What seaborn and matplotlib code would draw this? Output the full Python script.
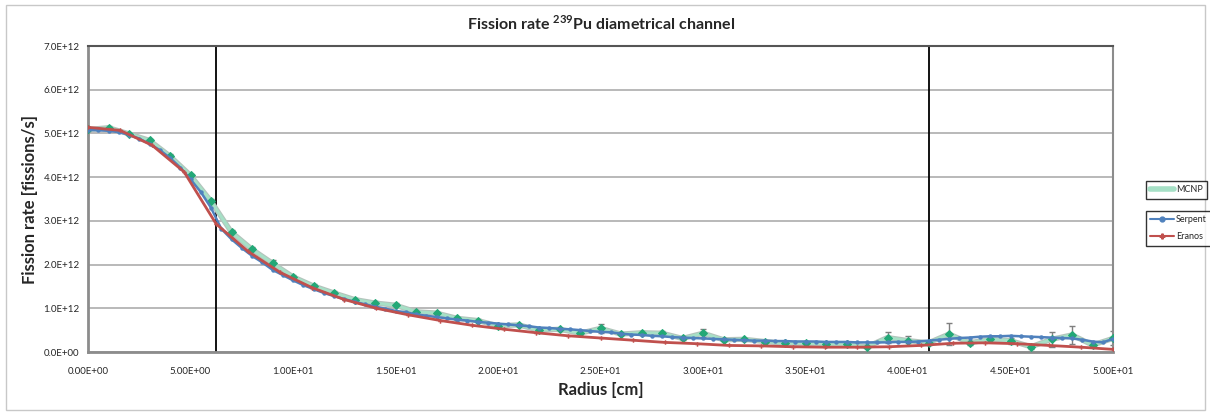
import numpy as np
import pandas as pd
import seaborn as sns
import matplotlib
matplotlib.use("Agg")
import matplotlib.pyplot as plt
from matplotlib.lines import Line2D
from matplotlib.patches import Rectangle
from matplotlib.ticker import FuncFormatter, MultipleLocator

# ---------------- data (values in 1E12 fissions/s) ----------------
mcnp_r = list(range(0, 51))
mcnp_val = [5.09, 5.13, 4.99, 4.84, 4.48, 4.04, 3.45, 2.74, 2.35, 2.03,
            1.72, 1.51, 1.35, 1.20, 1.12, 1.07, 0.92, 0.89, 0.77, 0.72,
            0.60, 0.62, 0.50, 0.52, 0.43, 0.54, 0.41, 0.44, 0.43, 0.31,
            0.43, 0.28, 0.29, 0.24, 0.20, 0.20, 0.18, 0.18, 0.12, 0.33,
            0.26, 0.21, 0.41, 0.21, 0.29, 0.26, 0.12, 0.29, 0.39, 0.16,
            0.31]
mcnp_err = [0.03, 0.03, 0.03, 0.03, 0.04, 0.04, 0.05, 0.05, 0.05, 0.08,
            0.04, 0.04, 0.04, 0.04, 0.04, 0.04, 0.03, 0.03, 0.03, 0.03,
            0.03, 0.03, 0.03, 0.03, 0.03, 0.10, 0.03, 0.04, 0.05, 0.03,
            0.09, 0.03, 0.03, 0.03, 0.03, 0.03, 0.03, 0.03, 0.03, 0.13,
            0.11, 0.04, 0.25, 0.06, 0.05, 0.07, 0.04, 0.17, 0.20, 0.05,
            0.16]

serpent_r = [i * 0.5 for i in range(101)]
serpent_val = [5.08, 5.07, 5.06, 5.03, 4.97, 4.88, 4.76, 4.62, 4.44, 4.22,
               3.95, 3.66, 3.30, 2.82, 2.58, 2.38, 2.20, 2.05, 1.88, 1.76,
               1.64, 1.53, 1.44, 1.35, 1.28, 1.21, 1.15, 1.09, 1.04, 0.99,
               0.94, 0.91, 0.86, 0.83, 0.80, 0.77, 0.74, 0.72, 0.69, 0.67,
               0.65, 0.63, 0.61, 0.59, 0.56, 0.55, 0.53, 0.52, 0.50, 0.48,
               0.46, 0.45, 0.42, 0.40, 0.39, 0.37, 0.36, 0.34, 0.33, 0.32,
               0.31, 0.30, 0.29, 0.28, 0.27, 0.26, 0.26, 0.25, 0.25, 0.24,
               0.24, 0.24, 0.23, 0.23, 0.23, 0.22, 0.22, 0.22, 0.22, 0.23,
               0.23, 0.24, 0.26, 0.28, 0.30, 0.32, 0.33, 0.35, 0.36, 0.36,
               0.37, 0.36, 0.35, 0.34, 0.33, 0.32, 0.31, 0.28, 0.24, 0.22,
               0.30]

eranos_r = [i * 1.5625 for i in range(33)]
eranos_val = [5.14, 5.07, 4.73, 4.12, 2.93, 2.30, 1.82, 1.47, 1.20, 1.00,
              0.85, 0.72, 0.61, 0.52, 0.44, 0.37, 0.32, 0.27, 0.22, 0.19,
              0.15, 0.14, 0.12, 0.11, 0.11, 0.12, 0.15, 0.20, 0.21, 0.19,
              0.15, 0.11, 0.06]

boundaries = [6.25, 41.0]
y_ticks = [0, 1, 2, 3, 4, 5, 6, 7]
x_ticks = [0, 5, 10, 15, 20, 25, 30, 35, 40, 45, 50]

SCALE = 1e12
mcnp_df = pd.DataFrame({"r": mcnp_r, "v": np.array(mcnp_val) * SCALE,
                        "e": np.array(mcnp_err) * SCALE})
serp_df = pd.DataFrame({"r": serpent_r, "v": np.array(serpent_val) * SCALE})
eran_df = pd.DataFrame({"r": eranos_r, "v": np.array(eranos_val) * SCALE})

# ---------------- style ----------------
sns.set_style("white")
plt.rcParams["font.family"] = ["Lato", "DejaVu Sans"]
plt.rcParams["mathtext.fontset"] = "custom"
plt.rcParams["mathtext.bf"] = "Lato:bold"
plt.rcParams["mathtext.rm"] = "Lato"

BLUE = "#4F81BD"
RED = "#C0504D"
GREEN_BAND = "#a6e0c6"
GREEN_EDGE = "#b3c4bc"
GREEN_MK = "#23a877"

fig = plt.figure(figsize=(12.1, 4.15), dpi=100)
ax = fig.add_axes([88 / 1210, 1 - 352 / 415, (1113 - 88) / 1210, (352 - 46) / 415])

# outer chart frame
fig.patches.append(Rectangle((6 / 1210, 1 - 410 / 415), 1199 / 1210, 405 / 415,
                             transform=fig.transFigure, fill=False,
                             edgecolor="#c8c8c8", linewidth=1.0))

# grid
for t in y_ticks:
    ax.axhline(t * SCALE, color="#a6a6a6", linewidth=1.1, zorder=0)

# boundaries
for b in boundaries:
    ax.axvline(b, color="black", linewidth=1.3, zorder=1)

# MCNP series: thick band + markers + error bars
ax.errorbar(mcnp_df["r"], mcnp_df["v"], yerr=mcnp_df["e"], fmt="none",
            ecolor="#7f7f7f", elinewidth=1.0, capsize=2.5, capthick=1.0, zorder=2)
sns.lineplot(data=mcnp_df, x="r", y="v", ax=ax, color=GREEN_EDGE, linewidth=3.8,
             zorder=3, legend=False)
sns.lineplot(data=mcnp_df, x="r", y="v", ax=ax, color=GREEN_BAND, linewidth=2.2,
             marker="D", markersize=4.2, markerfacecolor=GREEN_MK,
             markeredgecolor=GREEN_MK, zorder=4, legend=False)

# Serpent
sns.lineplot(data=serp_df, x="r", y="v", ax=ax, color=BLUE, linewidth=1.8,
             marker="o", markersize=3.2, markeredgewidth=0, zorder=5, legend=False)
# Eranos
sns.lineplot(data=eran_df, x="r", y="v", ax=ax, color=RED, linewidth=2.0,
             marker="P", markersize=3.2, markeredgewidth=0, zorder=6, legend=False)

ax.set_xlim(0, 50)
ax.set_ylim(0, 7 * SCALE)
ax.set_yticks([t * SCALE for t in y_ticks])
ax.set_xticks(x_ticks)
ax.xaxis.set_minor_locator(MultipleLocator(1))
ax.yaxis.set_major_formatter(FuncFormatter(lambda v, p: f"{v:.1E}"))
ax.xaxis.set_major_formatter(FuncFormatter(lambda v, p: f"{v:.2E}"))
ax.tick_params(axis="both", which="major", labelsize=7, length=3, width=0.8,
               color="#7f7f7f", direction="out", pad=3)
ax.tick_params(axis="x", which="minor", length=2, width=0.6, color="#7f7f7f",
               direction="out")
ax.tick_params(axis="x", pad=8)

for side in ["left", "bottom"]:
    ax.spines[side].set_color("#8c8c8c")
    ax.spines[side].set_linewidth(2.0)
ax.spines["top"].set_color("#555555")
ax.spines["top"].set_linewidth(1.5)
ax.spines["right"].set_color("#8c8c8c")
ax.spines["right"].set_linewidth(1.5)

ax.set_xlabel("Radius [cm]", fontsize=12, fontweight="bold", labelpad=4)
ax.set_ylabel("Fission rate [fissions/s]", fontsize=12, fontweight="bold",
              labelpad=4)
fig.text(0.497, 1 - 23 / 415, r"Fission rate $^{\mathbf{239}}$Pu diametrical channel",
         ha="center", va="center", fontsize=11.5, fontweight="bold")

# legends
h_mcnp = [Line2D([0], [0], color=GREEN_BAND, linewidth=4)]
leg1 = fig.legend(h_mcnp, ["MCNP"], loc="upper left",
                  bbox_to_anchor=(1141 / 1210, 1 - 176 / 415), fontsize=6.5,
                  frameon=True, fancybox=False, edgecolor="black",
                  handlelength=2.6, borderpad=0.5, handletextpad=0.3)
leg1.get_frame().set_linewidth(1.0)
h2 = [Line2D([0], [0], color=BLUE, linewidth=1.5, marker="o", markersize=3.5),
      Line2D([0], [0], color=RED, linewidth=1.5, marker="P", markersize=3.5)]
leg2 = fig.legend(h2, ["Serpent", "Eranos"], loc="upper left",
                  bbox_to_anchor=(1141 / 1210, 1 - 206 / 415), fontsize=6.5,
                  frameon=True, fancybox=False, edgecolor="black",
                  handlelength=2.6, borderpad=0.5, handletextpad=0.3,
                  labelspacing=0.9)
leg2.get_frame().set_linewidth(1.0)

fig.savefig("out.png", dpi=100)
